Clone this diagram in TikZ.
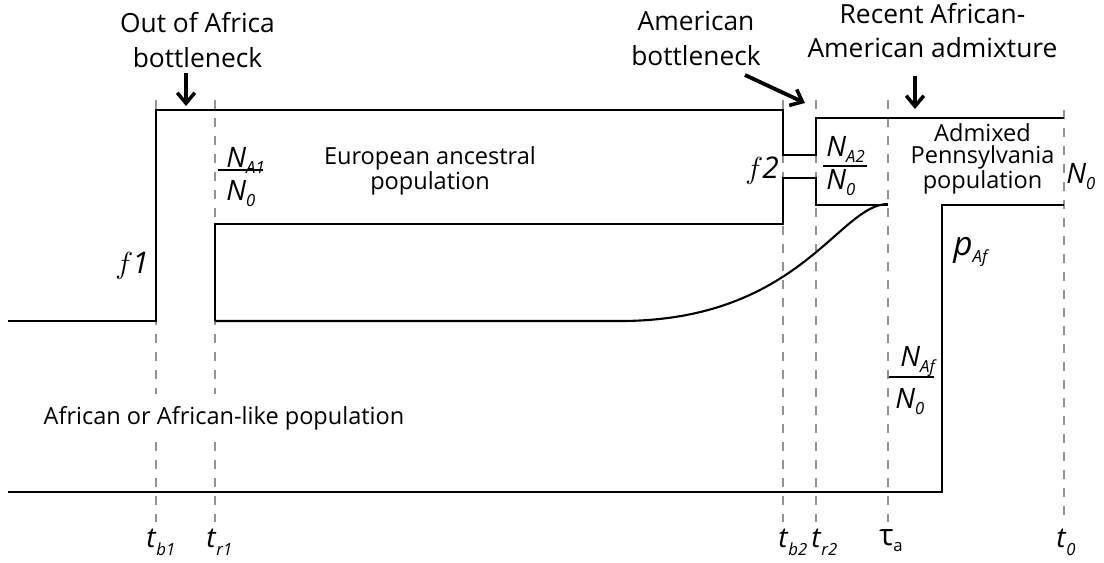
\documentclass[tikz,border=0pt]{standalone}
\usepackage{fontspec}
\setmainfont{Open Sans}
\usetikzlibrary{arrows.meta}
% symbol with lowered subscript: [size]{drop}{letter}{subscript}
\newcommand\symb[4][16]{{\fontsize{#1}{#1}\selectfont\textit{#3}\raisebox{-#2}{\fontsize{9.5}{9.5}\selectfont\textit{#4}}}}
\begin{document}
\begin{tikzpicture}[x=0.02cm,y=-0.02cm,
  pop/.style={line width=1.2pt,line join=miter},
  guide/.style={gray!85,line width=1.1pt,dash pattern=on 0.18cm off 0.18cm},
  big/.style={font=\fontsize{15}{19.5}\selectfont,align=center,inner sep=0pt},
  body/.style={font=\fontsize{13.4}{12.5}\selectfont,align=center,inner sep=0pt},
  sym/.style={inner sep=0pt,anchor=base west},
  pointer/.style={line width=2.2pt,-{Straight Barb[length=6pt,width=10pt,line width=2pt]}},
  frac/.style={line width=1.2pt}]
\useasboundingbox (0,0) rectangle (1104,562);
% guide lines
\foreach \n/\x/\ya in {tb1/156/100, tr1/215/100, tb2/783/100, tr2/816/100, ta/888/100, tz/1064/110}{
  \coordinate (\n top) at (\x,\ya);
  \coordinate (\n bot) at (\x,522);
  \draw[guide] (\n top) -- (\n bot);
}
% African population text (masks guides)
\node[body,fill=white,inner xsep=3pt,inner ysep=7pt] (afr) at (224,418) {African or African-like population};
% European population
\coordinate (e0) at (8,321);
\coordinate (e1) at (156,321);
\coordinate (e2) at (156,110);
\coordinate (e3) at (783,110);
\coordinate (e4) at (783,155);
\coordinate (e5) at (816,155);
\coordinate (e6) at (816,118);
\coordinate (e7) at (1064,118);
\draw[pop] (e0) -- (e1) -- (e2) -- (e3) -- (e4) -- (e5) -- (e6) -- (e7);
\coordinate (l0) at (215,321);
\coordinate (l1) at (215,224);
\coordinate (l2) at (783,224);
\coordinate (l3) at (783,178);
\coordinate (l4) at (816,178);
\coordinate (l5) at (816,205);
\coordinate (l6) at (888,205);
\draw[pop] (l0) -- (l1) -- (l2) -- (l3) -- (l4) -- (l5) -- (l6);
\coordinate (c0) at (620,321);
\coordinate (c1) at (888,204);
\draw[pop] (l0) -- (c0) .. controls (800,321) and (839,204) .. (c1);
% African population
\coordinate (a0) at (8,492);
\coordinate (a1) at (942,492);
\coordinate (a2) at (942,205);
\coordinate (a3) at (1064,205);
\draw[pop] (a0) -- (a1) -- (a2) -- (a3);
% titles
\node[big] (oot) at (197.5,40) {Out of Africa\\bottleneck};
\node[big] (amb) at (696,38.5) {American\\bottleneck};
\node[big] (rec) at (932.5,30.5) {Recent African-\\American admixture};
\coordinate (oota) at (186,73);
\coordinate (ootb) at (186,106);
\draw[pointer] (oota) -- (ootb);
\coordinate (amba) at (745,75);
\coordinate (ambb) at (805,103);
\draw[pointer] (amba) -- (ambb);
\coordinate (reca) at (915,76);
\coordinate (recb) at (915,109);
\draw[pointer] (reca) -- (recb);
% population labels
\node[body] (eur) at (430,171) {European ancestral\\population};
\node[body] (adm) at (982.5,159) {Admixed\\Pennsylvania\\population};
% fractions
\node[sym] (na1) at (226,167) {\symb{3.5pt}{N}{A1}};
\node[sym] (n01) at (226,200) {\symb{3.5pt}{N}{0}};
\draw[frac] (218,170) -- (263,170);
\node[sym] (na2) at (826,156) {\symb{3.5pt}{N}{A2}};
\node[sym] (n02) at (826,189) {\symb{3.5pt}{N}{0}};
\draw[frac] (823,166) -- (867,166);
\node[sym] (naf) at (900,366) {\symb{3.5pt}{N}{Af}};
\node[sym] (n0f) at (895,408) {\symb{3.5pt}{N}{0}};
\draw[frac] (889,377) -- (934,377);
\node[sym] (n0r) at (1066,183) {\symb{3.5pt}{N}{0}};
\node[sym] (paf) at (953,255) {\symb[19]{4pt}{p}{Af}};
\node[sym] (f1) at (115,273) {\fontsize{17}{17}\selectfont$f$\kern-0.5pt\textit{1}};
\node[sym] (f2) at (745,178) {\fontsize{17}{17}\selectfont$f$\kern-0.5pt\textit{2}};
% time labels
\node[sym] (ltb1) at (146,547) {\symb{5pt}{t}{b1}};
\node[sym] (ltr1) at (206,547) {\symb{5pt}{t}{r1}};
\node[sym] (ltb2) at (778,547) {\symb{5pt}{t}{b2}};
\node[sym] (ltr2) at (811,547) {\symb{5pt}{t}{r2}};
\node[sym] (lta) at (879,545) {{\fontsize{17}{17}\selectfont τ}\raisebox{-3.5pt}{\fontsize{9.5}{9.5}\selectfont a}};
\node[sym] (lt0) at (1056,547) {\symb{5pt}{t}{0}};
\end{tikzpicture}
\end{document}
